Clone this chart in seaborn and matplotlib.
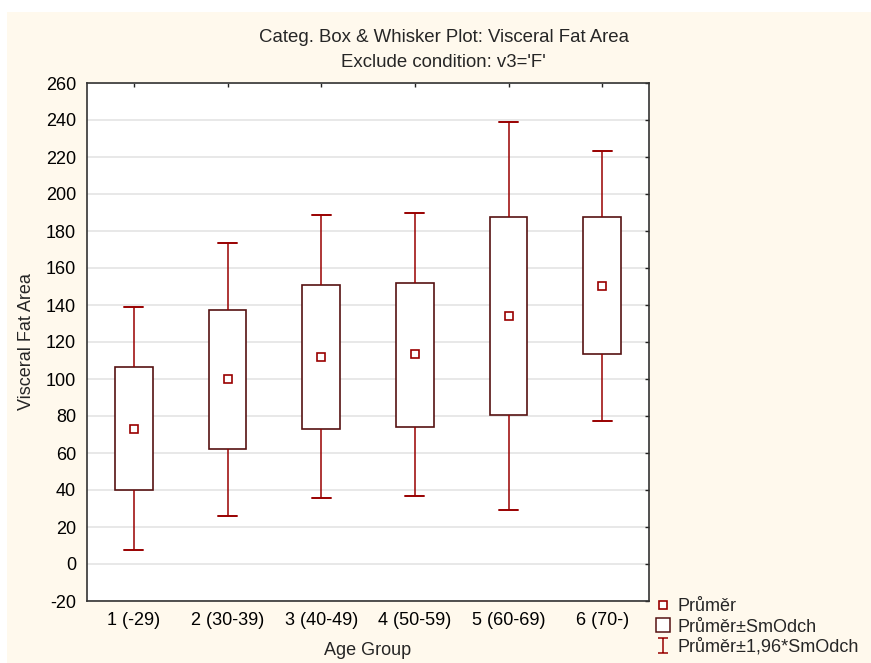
import numpy as np
import pandas as pd
import matplotlib
matplotlib.use("Agg")
import matplotlib.pyplot as plt
import seaborn as sns
from matplotlib.lines import Line2D
from matplotlib.patches import Patch, Rectangle
from matplotlib.path import Path

# ---------------- data ----------------
groups = ["1 (-29)", "2 (30-39)", "3 (40-49)", "4 (50-59)", "5 (60-69)", "6 (70-)"]
means = [73.1, 99.8, 112.1, 113.4, 134.1, 150.5]
box_low = [39.8, 62.3, 73.0, 74.1, 80.7, 113.3]      # mean - SD
box_high = [106.3, 137.2, 151.0, 152.1, 187.7, 187.7]  # mean + SD
whisk_low = [7.4, 26.2, 35.5, 36.6, 29.3, 77.3]      # mean - 1.96*SD
whisk_high = [138.7, 173.4, 188.6, 190.0, 239.1, 223.5]  # mean + 1.96*SD
y_ticks = list(range(-20, 261, 20))

title_1 = "Categ. Box & Whisker Plot: Visceral Fat Area"
title_2 = "Exclude condition: v3='F'"
x_label = "Age Group"
y_label = "Visceral Fat Area"
legend_labels = ["Průměr", "Průměr±SmOdch", "Průměr±1,96*SmOdch"]

# ---------------- style ----------------
sns.set_style("white")
plt.rcParams["font.family"] = ["Liberation Sans", "DejaVu Sans"]
plt.rcParams["axes.unicode_minus"] = False
FS = 13

BOX_EDGE = "#561212"
WHISK = "#990000"
CREAM = "#fff9ed"

W, H = 871, 663
fig = plt.figure(figsize=(W / 100, H / 100), dpi=100)
fig.patch.set_facecolor("white")
fig.add_artist(Rectangle((7 / W, 0), 1 - 7 / W, 1 - 12 / H, transform=fig.transFigure,
                         facecolor=CREAM, edgecolor="none", zorder=-10))

ax = fig.add_axes([87 / W, 1 - 601 / H, (649 - 87) / W, (601 - 83) / H])
ax.set_facecolor("white")

# long-form table: 5 values per group so quartiles = mean±SD, extremes = mean±1.96SD
rows = []
for g, wl, bl, m, bh, wh in zip(groups, whisk_low, box_low, means, box_high, whisk_high):
    for v in (wl, bl, m, bh, wh):
        rows.append({"group": g, "value": v})
df = pd.DataFrame(rows)
df_mean = pd.DataFrame({"group": groups, "mean": means})

sns.boxplot(data=df, x="group", y="value", order=groups, ax=ax,
            width=0.4, whis=(0, 100), showfliers=False,
            color="white", linecolor=BOX_EDGE, linewidth=1.2,
            boxprops=dict(facecolor="white", edgecolor=BOX_EDGE, linewidth=1.2, zorder=3),
            whiskerprops=dict(color=WHISK, linewidth=1.1, zorder=3),
            capprops=dict(color=WHISK, linewidth=1.4, zorder=3),
            medianprops=dict(visible=False))

sns.pointplot(data=df_mean, x="group", y="mean", order=groups, ax=ax,
              errorbar=None, linestyle="none", marker="s", color=WHISK,
              markersize=5.5, markeredgewidth=1.2, markerfacecolor="white", zorder=6)

ax.set_xlim(-0.5, len(groups) - 0.5)
ax.set_ylim(-20, 260)
ax.set_yticks(y_ticks)
ax.set_xticks(range(len(groups)))
ax.set_xticklabels(groups)

ax.yaxis.grid(True, color="#e4e4e4", linewidth=1.2, zorder=0)
ax.xaxis.grid(False)
ax.set_axisbelow(True)

for s in ax.spines.values():
    s.set_visible(True)
    s.set_color("#333333")
    s.set_linewidth(1.2)

ax.tick_params(axis="both", direction="in", length=3, width=1, color="#222222",
               top=True, right=True, labeltop=False, labelright=False,
               labelsize=FS, pad=8, labelcolor="black")

ax.set_xlabel(x_label, fontsize=FS, va="top")
ax.set_ylabel(y_label, fontsize=FS)
ax.xaxis.set_label_coords(0.5, -0.079)
ax.yaxis.set_label_coords(-0.093, 0.5)

fig.text(443.5 / W, 1 - 41.7 / H, title_1, ha="center", va="baseline", fontsize=13.4)
fig.text(443.5 / W, 1 - 66.7 / H, title_2, ha="center", va="baseline", fontsize=13.4)

# legend
ibeam = Path([(-0.62, 1), (0.62, 1), (0, 1), (0, -1), (-0.62, -1), (0.62, -1)],
             [Path.MOVETO, Path.LINETO, Path.MOVETO, Path.LINETO, Path.MOVETO, Path.LINETO])
handles = [
    Line2D([], [], linestyle="none", marker="s", markersize=5.5, markeredgewidth=1.2,
           markerfacecolor="white", markeredgecolor=WHISK),
    Patch(facecolor="white", edgecolor=BOX_EDGE, linewidth=1.1),
    Line2D([], [], linestyle="none", marker=ibeam, markersize=10.8, markeredgewidth=1.1,
           markeredgecolor=WHISK, markerfacecolor="none"),
]
fig.legend(handles, legend_labels, loc="upper left", bbox_to_anchor=(656 / W, 1 - 598 / H),
           frameon=False, fontsize=FS, borderaxespad=0, borderpad=0,
           handlelength=0.78, handleheight=0.83, handletextpad=0.39, labelspacing=0.16)

fig.savefig("out.png", dpi=100, facecolor=fig.get_facecolor())
